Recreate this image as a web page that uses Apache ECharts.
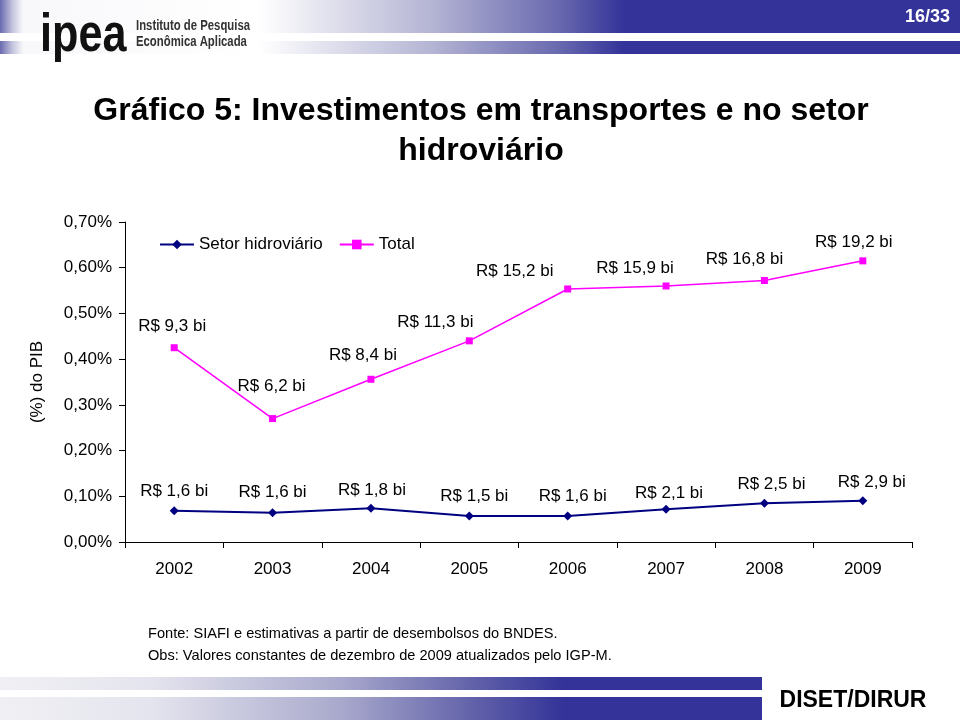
<!DOCTYPE html>
<html>
<head>
<meta charset="utf-8">
<script src="https://cdn.jsdelivr.net/npm/echarts@6/dist/echarts.min.js"></script>
<style>
html,body{margin:0;padding:0;background:#ffffff;}
#chart{width:960px;height:720px;}
</style>
</head>
<body>
<div id="chart"></div>
<script>
// ---- Data ----
const years = ['2002', '2003', '2004', '2005', '2006', '2007', '2008', '2009'];
const setorValues = [0.0685, 0.064, 0.074, 0.057, 0.057, 0.0715, 0.085, 0.090];
const totalValues = [0.425, 0.270, 0.356, 0.440, 0.5535, 0.560, 0.572, 0.615];
const setorLabels = ['R$ 1,6 bi', 'R$ 1,6 bi', 'R$ 1,8 bi', 'R$ 1,5 bi', 'R$ 1,6 bi', 'R$ 2,1 bi', 'R$ 2,5 bi', 'R$ 2,9 bi'];
const totalLabels = ['R$ 9,3 bi', 'R$ 6,2 bi', 'R$ 8,4 bi', 'R$ 11,3 bi', 'R$ 15,2 bi', 'R$ 15,9 bi', 'R$ 16,8 bi', 'R$ 19,2 bi'];
const seriesNames = ['Setor hidroviário', 'Total'];
const yAxisName = '(%) do PIB';
const titleText = 'Gráfico 5: Investimentos em transportes e no setor\nhidroviário';
const noteLines = ['Fonte: SIAFI e estimativas a partir de desembolsos do BNDES.',
                   'Obs: Valores constantes de dezembro de 2009 atualizados pelo IGP-M.'];
const pageNumber = '16/33';
const footerText = 'DISET/DIRUR';

// ---- Layout (label nudges, in pixels) ----
const setorLabelOffsets = [[0,-19],[0,-20],[1,-18],[5,-20],[5,-20],[3,-16],[7,-19],[9,-19]];
const totalLabelOffsets = [[-2,-21],[-1,-32],[-8,-24],[-34,-19],[-53,-18],[-31,-18],[-20,-21],[-9,-19]];

const FONT = "'Liberation Sans', Arial, sans-serif";
const chart = echarts.init(document.getElementById('chart'), null, {renderer: 'canvas'});

function hGrad(stops) {
  return new echarts.graphic.LinearGradient(0, 0, 1, 0, stops);
}
const headerStops = [
  {offset: 0, color: '#6a6ab0'},
  {offset: 0.013, color: '#c4c4de'},
  {offset: 0.024, color: '#f8f8fb'},
  {offset: 0.27, color: '#ffffff'},
  {offset: 0.45, color: '#b4b4d4'},
  {offset: 0.58, color: '#6a6ab0'},
  {offset: 0.65, color: '#333399'},
  {offset: 1, color: '#333399'}
];
const footerStops = [
  {offset: 0, color: '#f0f0f4'},
  {offset: 0.2, color: '#e4e4ee'},
  {offset: 0.45, color: '#a8a8cc'},
  {offset: 0.62, color: '#6262aa'},
  {offset: 0.74, color: '#333399'},
  {offset: 1, color: '#333399'}
];

const option = {
  animation: false,
  backgroundColor: '#ffffff',
  textStyle: {fontFamily: FONT},
  legend: {
    data: seriesNames,
    left: 154,
    top: 231,
    itemWidth: 34,
    itemHeight: 12,
    itemGap: 16,
    textStyle: {fontSize: 17, color: '#000000', fontFamily: FONT}
  },
  grid: {left: 125, right: 48, top: 222, bottom: 178, containLabel: false},
  xAxis: {
    type: 'category',
    data: years,
    boundaryGap: true,
    axisLine: {show: true, lineStyle: {color: '#000000', width: 1}},
    axisTick: {show: true, length: 6, lineStyle: {color: '#000000'}},
    axisLabel: {fontSize: 17, color: '#000000', margin: 19, fontFamily: FONT},
    splitLine: {show: false}
  },
  yAxis: {
    type: 'value',
    min: 0,
    max: 0.7,
    interval: 0.1,
    name: yAxisName,
    nameLocation: 'middle',
    nameGap: 79,
    nameTextStyle: {fontSize: 17, color: '#000000', fontFamily: FONT},
    axisLine: {show: true, lineStyle: {color: '#000000', width: 1}},
    axisTick: {show: true, length: 6, lineStyle: {color: '#000000'}},
    axisLabel: {
      fontSize: 17, color: '#000000', margin: 13, fontFamily: FONT,
      formatter: v => v.toFixed(2).replace('.', ',') + '%'
    },
    splitLine: {show: false}
  },
  series: [
    {
      name: seriesNames[0],
      type: 'line',
      data: setorValues.map((v, i) => ({value: v, label: {offset: setorLabelOffsets[i]}})),
      symbol: 'diamond',
      symbolSize: 9,
      color: '#000080',
      itemStyle: {color: '#000080'},
      lineStyle: {color: '#000080', width: 2},
      label: {
        show: true, position: 'inside', fontSize: 17, color: '#000000', fontFamily: FONT,
        formatter: p => setorLabels[p.dataIndex]
      },
      z: 3
    },
    {
      name: seriesNames[1],
      type: 'line',
      data: totalValues.map((v, i) => ({value: v, label: {offset: totalLabelOffsets[i]}})),
      symbol: 'rect',
      symbolSize: 7,
      color: '#FF00FF',
      itemStyle: {color: '#FF00FF'},
      lineStyle: {color: '#FF00FF', width: 1.5},
      label: {
        show: true, position: 'inside', fontSize: 17, color: '#000000', fontFamily: FONT,
        formatter: p => totalLabels[p.dataIndex]
      },
      z: 2
    }
  ],
  graphic: [
    // header bands
    {type: 'rect', shape: {x: 0, y: 0, width: 960, height: 33}, style: {fill: hGrad(headerStops)}, silent: true, z: -1},
    {type: 'rect', shape: {x: 0, y: 41, width: 960, height: 13}, style: {fill: hGrad(headerStops)}, silent: true, z: -1},
    // logo
    {type: 'text', x: 40, y: 9, scaleX: 0.8, style: {text: 'ipea', font: "bold 54px 'Liberation Sans', Arial, sans-serif", fill: '#111111'}, z: 5},
    {type: 'text', x: 136, y: 19, scaleX: 0.81, style: {text: 'Instituto de Pesquisa', font: "bold 14px 'Liberation Sans', Arial, sans-serif", fill: '#333333'}, z: 5},
    {type: 'text', x: 136, y: 35, scaleX: 0.81, style: {text: 'Econômica Aplicada', font: "bold 14px 'Liberation Sans', Arial, sans-serif", fill: '#333333'}, z: 5},
    {type: 'text', x: 950, y: 17, style: {text: pageNumber, font: "bold 18px 'Liberation Sans', Arial, sans-serif", fill: '#ffffff', align: 'right', verticalAlign: 'middle'}, z: 5},
    // title
    {type: 'text', x: 481, y: 91, style: {text: titleText, font: "bold 32px 'Liberation Sans', Arial, sans-serif", fill: '#000000', align: 'center', lineHeight: 40}, z: 5},
    // notes
    {type: 'text', x: 148, y: 634, style: {text: noteLines[0], font: "14.6px 'Liberation Sans', Arial, sans-serif", fill: '#000000', verticalAlign: 'middle'}, z: 5},
    {type: 'text', x: 148, y: 656, style: {text: noteLines[1], font: "14.6px 'Liberation Sans', Arial, sans-serif", fill: '#000000', verticalAlign: 'middle'}, z: 5},
    // footer bands
    {type: 'rect', shape: {x: 0, y: 677, width: 762, height: 13}, style: {fill: hGrad(footerStops)}, silent: true, z: -1},
    {type: 'rect', shape: {x: 0, y: 697, width: 762, height: 23}, style: {fill: hGrad(footerStops)}, silent: true, z: -1},
    {type: 'text', x: 853, y: 701, style: {text: footerText, font: "bold 23px 'Liberation Sans', Arial, sans-serif", fill: '#000000', align: 'center', verticalAlign: 'middle'}, z: 5}
  ]
};
chart.setOption(option);
</script>
</body>
</html>
